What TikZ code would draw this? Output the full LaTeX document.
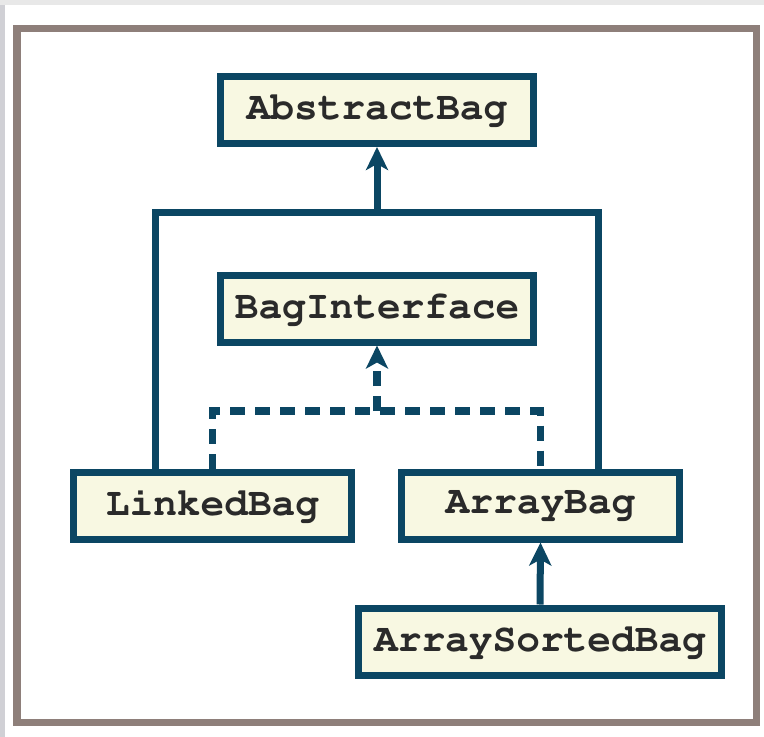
\documentclass[tikz,border=0pt]{standalone}
\usepackage[T1]{fontenc}
\usepackage{tikz}
\usetikzlibrary{arrows.meta, positioning}

\definecolor{bagline}{HTML}{0B4663}
\definecolor{bagfill}{HTML}{F8F8E2}
\definecolor{framecol}{HTML}{8E7F7A}
\definecolor{textcol}{HTML}{2A2A2A}

\begin{document}
\begin{tikzpicture}[x=1pt, y=-1pt,
    bagbox/.style={draw=bagline, fill=bagfill, line width=7pt, minimum height=67pt,
        inner sep=0pt, text=textcol,
        font=\fontfamily{pcr}\fontseries{b}\fontsize{39.5}{40}\selectfont},
    link/.style={draw=bagline, line width=7pt},
    dashlink/.style={draw=bagline, line width=7.5pt, dash pattern=on 15pt off 10pt},
    tip/.style={-{Stealth[length=23pt, width=22pt, inset=6pt]}}]
                \path[use as bounding box, fill=white] (0,0) rectangle (764,737);
                \fill[gray!18] (0,0) rectangle (764,5);
                \fill[gray!25!blue!8!gray!35] (0,5) rectangle (5,737);
                \draw[framecol, line width=7.5pt] (16.75,28.5) rectangle (756.5,722.5);

                \node[bagbox, minimum width=313pt] (abstract) at (377,110) {AbstractBag};
                \node[bagbox, minimum width=313pt] (iface) at (377,308.5) {BagInterface};
                \node[bagbox, minimum width=278pt] (linked) at (212.5,505.5) {LinkedBag};
                \node[bagbox, minimum width=278pt] (array) at (540.5,505.5) {ArrayBag};
                \node[bagbox, minimum width=363pt] (sorted) at (540,641.5) {ArraySortedBag};

                \coordinate (extjoin) at (377,212);
                \coordinate (impljoin) at (377,411);

                \draw[link] ([xshift=-57pt]linked.north) |- (extjoin) -| ([xshift=58pt]array.north);
                \draw[link, tip] (extjoin) -- (abstract.south);

                \draw[dashlink] (linked.north) |- (impljoin) -| (array.north);
                \draw[dashlink, tip] (impljoin) -- (iface.south);

                \draw[link, tip] (sorted.north) -- (array.south);
            \end{tikzpicture}
\end{document}
